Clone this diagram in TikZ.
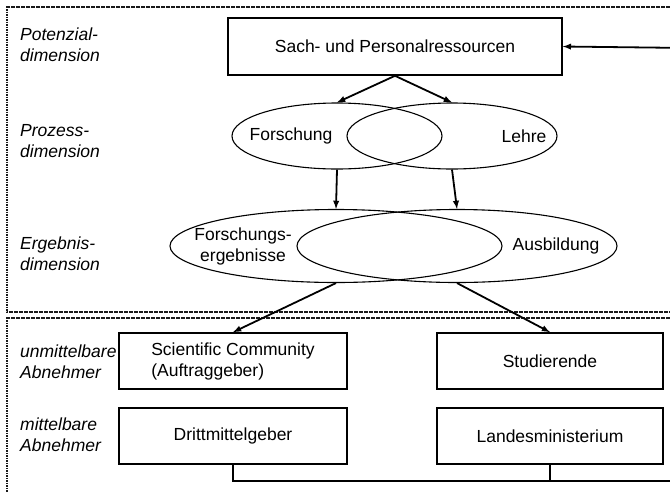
\documentclass[tikz,border=0pt]{standalone}
\usepackage{fontspec}
\setmainfont{Liberation Sans}
\usetikzlibrary{arrows,shapes.geometric}

\begin{document}
\begin{tikzpicture}[x=1pt,y=-1pt,font=\fontsize{17.5}{21}\selectfont,
                 box/.style={draw,line width=1.6pt,inner sep=0pt},
                 ell/.style={ellipse,draw,line width=1.1pt,inner sep=0pt},
                 dim/.style={anchor=west,align=left,inner sep=0pt,font=\fontsize{17.5}{21}\selectfont\itshape},
                 frame/.style={dash pattern=on 1.6pt off 0.9pt,line width=2.6pt,black!90},
                 pfeil/.style={-latex,line width=1.8pt}]
                 \useasboundingbox (0,0) rectangle (670,491);
                 \clip (0,0) rectangle (670,491);
                 % Rahmen
                 \draw[frame] (690,7) -- (7,7) -- (7,312) -- (690,312);
                 \draw[frame] (690,318) -- (7,318) -- (7,510);
                 % Dimensionen
                 \node[dim](pot)at(20,45){Potenzial-\\dimension};
                 \node[dim](proz)at(20,141){Prozess-\\dimension};
                 \node[dim](erg)at(20,254){Ergebnis-\\dimension};
                 \node[dim](unm)at(20,362){unmittelbare\\Abnehmer};
                 \node[dim](mit)at(20,435){mittelbare\\Abnehmer};
                 % Knoten
                 \node[box,minimum width=334,minimum height=57](sach)at(395,46.5){Sach- und Personalressourcen};
                 \node[ell,minimum width=210,minimum height=66](forsch)at(337,136){};
                 \node[ell,minimum width=210,minimum height=66](lehre)at(452,136){};
                 \node(tforsch)at(291,136){Forschung};
                 \node(tlehre)at(524,136){Lehre};
                 \node[ell,minimum width=332,minimum height=73](ferg)at(336,246){};
                 \node[ell,minimum width=320,minimum height=73](ausb)at(457,246){};
                 \node[align=center,inner sep=0pt](tferg)at(243,246){Forschungs-\\ergebnisse};
                 \node(tausb)at(556,246){Ausbildung};
                 \node[box,minimum width=228,minimum height=56,align=left](sci)at(233,361){Scientific Community\\(Auftraggeber)};
                 \node[box,minimum width=226,minimum height=56](stud)at(550,361){Studierende};
                 \node[box,minimum width=228,minimum height=56](dritt)at(233,436){Drittmittelgeber};
                 \node[box,minimum width=226,minimum height=56](land)at(550,436){Landesministerium};
                 \coordinate(ret)at(690,481);
                 \coordinate(back)at(690,48);
                 % Pfeile
                 \draw[pfeil](sach.south)--(forsch.north);
                 \draw[pfeil](sach.south)--(lehre.north);
                 \draw[pfeil](forsch.south)--(ferg.north);
                 \draw[pfeil](lehre.south)--(ausb.north);
                 \draw[pfeil](ferg.south)--(sci.north);
                 \draw[pfeil](ausb.south)--(stud.north);
                 \draw[line width=1.8pt](land.south)--(land.south|-ret);
                 \draw[pfeil](dritt.south)--(dritt.south|-ret)--(ret)--(back)--(sach.east);
               \end{tikzpicture}
\end{document}
